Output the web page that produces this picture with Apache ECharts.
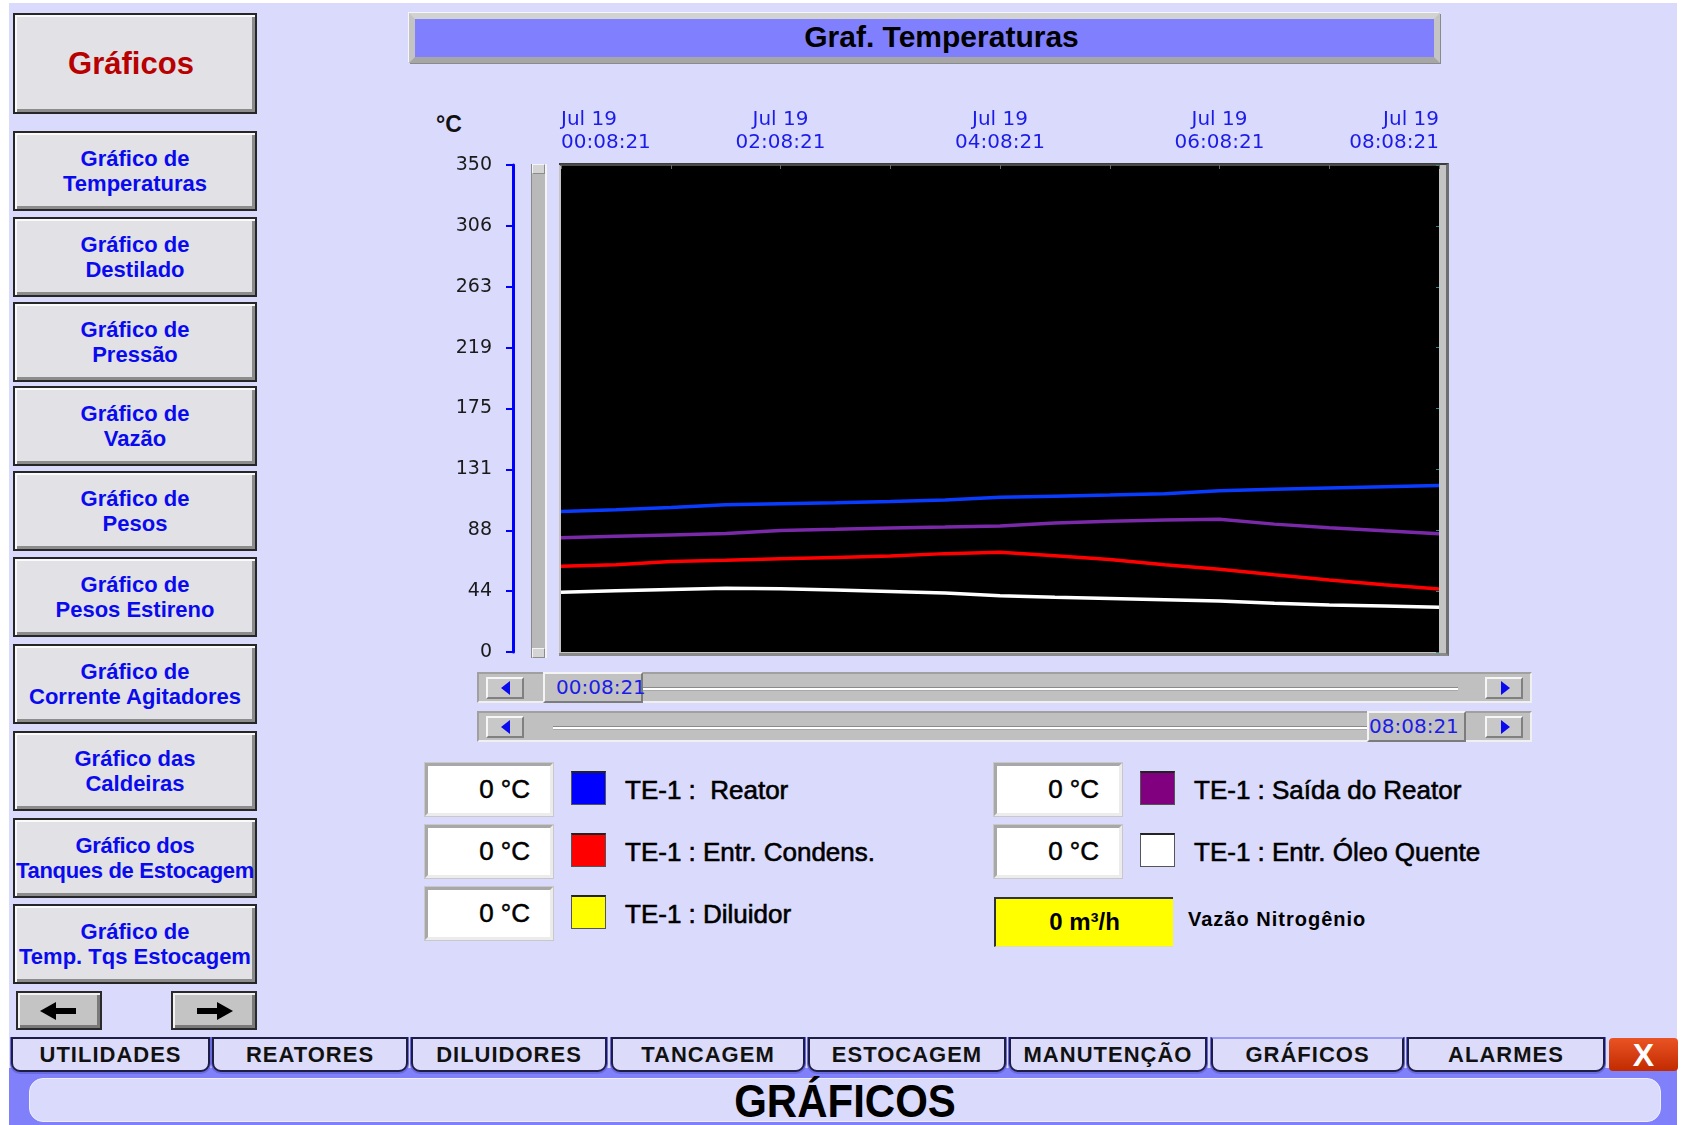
<!DOCTYPE html>
<html>
<head>
<meta charset="utf-8">
<title>Graf. Temperaturas</title>
<script src="https://cdn.jsdelivr.net/npm/echarts@6/dist/echarts.min.js"></script>
<style>
  html, body { margin: 0; padding: 0; background: #fff; }
  body { width: 1683px; height: 1125px; position: relative; overflow: hidden; font-family: Arial, "Liberation Sans", sans-serif; }
  .abs { position: absolute; box-sizing: border-box; }
  #panel { left: 9px; top: 3px; width: 1668px; height: 1122px; background: #dadafc; }
  #chart { left: 0; top: 0; width: 1683px; height: 1125px; z-index: 5; pointer-events: none; }

  /* menu lateral */
  .btn { left: 13px; width: 244px; height: 80px; background: #e1e1e6; border: 2px solid #262626;
         box-shadow: inset 2px 2px 0 #fafafa, inset -3px -3px 0 #8c8c8c;
         color: #0a0aee; font: bold 22px Arial, sans-serif; line-height: 25px; text-align: center; white-space: nowrap;
         display: flex; align-items: center; justify-content: center; }
  .head { top: 13px; height: 101px; color: #b80000; font-size: 31px; padding-right: 8px; }
  .arrowbtn { top: 991px; width: 86px; height: 39px; background: #c4c4c4; border: 2px solid #2a2a2a;
              box-shadow: inset 2px 2px 0 #f2f2f2, inset -3px -3px 0 #7a7a7a; }
  .shaft { width: 22px; height: 6px; background: #000; top: 15px; }
  .tri { width: 0; height: 0; top: 9px; border-top: 9px solid transparent; border-bottom: 9px solid transparent; }

  /* titulo */
  #title { left: 409px; top: 13px; width: 1031px; height: 50px; background: #8080ff;
           border: 6px solid #c4c4c4; border-top-color: #d2d2d2; border-bottom-color: #a6a6a6;
           box-shadow: -1px -1px 0 #f6f6f6, 1px 1px 0 #8a8a8a;
           font: bold 30px Arial, sans-serif; color: #000; text-align: center; line-height: 36px; padding-left: 34px; }

  #degC { left: 436px; top: 111px; font: bold 23px Arial, sans-serif; color: #111; }
  #yscroll { left: 531px; top: 164px; width: 16px; height: 494px; background: #b9b9b9;
             border-left: 1px solid #8a8a8a; border-right: 2px solid #f4f4f4; }
  .cap { left: 0; width: 13px; height: 10px; background: #d4d4d4; border: 1px solid #8c8c8c; border-top-color: #f4f4f4; border-left-color: #f4f4f4; }
  #frame { left: 559px; top: 163px; width: 890px; height: 493px; background: #c4c4c4;
           border-top: 2px solid #3c3c3c; border-right: 3px solid #6e6e6e; border-bottom: 3px solid #8a8a8a; }

  /* barras de rolagem */
  .slider { left: 477px; width: 1055px; height: 31px; background: #c0c0c0; border: 2px solid;
            border-color: #a0a0a0 #f0f0f0 #f0f0f0 #a0a0a0; }
  .sbtn { width: 38px; height: 22px; background: #c8c8c8; border: 2px solid; border-color: #f6f6f6 #808080 #808080 #f6f6f6; }
  .sl { top: 2px; left: 13px; width: 0; height: 0; border-top: 7px solid transparent; border-bottom: 7px solid transparent; border-right: 9px solid #0a0aee; }
  .sr { top: 2px; left: 14px; width: 0; height: 0; border-top: 7px solid transparent; border-bottom: 7px solid transparent; border-left: 9px solid #0a0aee; }
  .thumb { height: 31px; background: #c2c2c2; border: 2px solid; border-color: #f4f4f4 #7c7c7c #7c7c7c #f4f4f4;
           color: #1c1ce8; font: 20px "DejaVu Sans", sans-serif; line-height: 27px; }
  .track { height: 4px; background: #fff; border-top: 1px solid #8a8a8a; border-bottom: 1px solid #a8a8a8; }

  /* legenda */
  .val { width: 128px; height: 53px; background: #fff; border: 3px solid; border-color: #a8a8a8 #ececec #ececec #a8a8a8;
         box-shadow: 0 0 0 1px #c8c8c8; font: 26px Arial, sans-serif; color: #000; text-align: right; padding-right: 20px;
         line-height: 47px; -webkit-text-stroke: 0.5px #000; }
  .sq { width: 35px; height: 34px; border: 1px solid #555; border-top: 2px solid #222; }
  .lab { font: 26px Arial, sans-serif; color: #000; white-space: pre; line-height: 30px; -webkit-text-stroke: 0.6px #000; }

  /* abas */
  .tab { top: 1037px; height: 35px; background: #dcdcfa; border: 2px solid #1e1e44; border-radius: 0 0 9px 9px;
         box-shadow: 0 1px 0 1px #6a6ae0; font: bold 22px Arial, sans-serif; letter-spacing: 1px; color: #111;
         text-align: center; line-height: 31px; }
  #band { left: 9px; top: 1068px; width: 1668px; height: 57px; background: #8080fa; }
  #footer { left: 29px; top: 1078px; width: 1632px; height: 44px; background: #dadafc; border: 1px solid #eeeeff;
            border-radius: 14px; font: bold 42px Arial, sans-serif; color: #000; text-align: center; line-height: 44px; }
  #footer span { display: inline-block; transform: scaleY(1.12); }
  #close { left: 1609px; top: 1038px; width: 69px; height: 33px; background: linear-gradient(#ea5424, #c22a00);
           border-radius: 4px; color: #fff; font: bold 32px Arial, sans-serif; text-align: center; line-height: 34px; }
</style>
</head>
<body>
<div id="panel" class="abs"></div>

<div class="abs btn head">Gráficos</div>
<div id="menu"></div>
<div class="abs arrowbtn" style="left:16px">
  <div class="abs tri" style="left:22px;border-right:16px solid #000"></div>
  <div class="abs shaft" style="left:36px"></div>
</div>
<div class="abs arrowbtn" style="left:171px">
  <div class="abs shaft" style="left:24px"></div>
  <div class="abs tri" style="left:44px;border-left:16px solid #000"></div>
</div>

<div id="title" class="abs">Graf. Temperaturas</div>
<div id="degC" class="abs">°C</div>
<div id="yscroll" class="abs">
  <div class="abs cap" style="top:0"></div>
  <div class="abs cap" style="bottom:0"></div>
</div>
<div id="frame" class="abs"></div>

<div class="abs slider" style="top:672px">
  <div class="abs sbtn" style="left:7px;top:3px"><div class="abs sl"></div></div>
  <div class="abs track" style="left:164px;top:13px;width:815px"></div>
  <div class="abs thumb" style="left:64px;top:-2px;width:100px;padding-left:11px">00:08:21</div>
  <div class="abs sbtn" style="left:1006px;top:3px"><div class="abs sr"></div></div>
</div>
<div class="abs slider" style="top:711px">
  <div class="abs sbtn" style="left:7px;top:3px"><div class="abs sl"></div></div>
  <div class="abs track" style="left:74px;top:13px;width:816px"></div>
  <div class="abs thumb" style="left:888px;top:-2px;width:99px;text-align:right;padding-right:6px">08:08:21</div>
  <div class="abs sbtn" style="left:1006px;top:3px"><div class="abs sr"></div></div>
</div>

<div id="legend"></div>

<div class="abs" style="left:994px;top:897px;width:179px;height:50px;background:#ffff00;border-top:2px solid #333;border-left:2px solid #333;border-bottom:1px solid #e0e0a0;font:bold 24px Arial,sans-serif;text-align:center;line-height:46px">0 m³/h</div>
<div class="abs" style="left:1188px;top:908px;font:bold 20px Arial,sans-serif;letter-spacing:1px">Vazão Nitrogênio</div>

<div id="band" class="abs"></div>
<div id="tabs"></div>
<div id="close" class="abs">X</div>
<div id="footer" class="abs"><span>GRÁFICOS</span></div>

<div id="chart" class="abs"></div>

<script>
// horarios das amostras (a cada 30 min)
const times = ['00:08:21', '00:38:21', '01:08:21', '01:38:21', '02:08:21', '02:38:21', '03:08:21', '03:38:21',
  '04:08:21', '04:38:21', '05:08:21', '05:38:21', '06:08:21', '06:38:21', '07:08:21', '07:38:21', '08:08:21'];
const dayLabel = 'Jul 19';

// temperaturas (°C)
const reator = [101.0, 102.3, 103.9, 105.8, 106.6, 107.3, 108.1, 109.3, 111.2, 112.0, 112.8, 113.8, 115.9, 116.9, 117.8, 118.7, 119.6];
const saidaReator = [82.1, 83.1, 84.1, 85.1, 87.4, 88.2, 89.1, 89.8, 90.6, 92.7, 93.9, 94.9, 95.4, 91.9, 89.3, 87.1, 85.0];
const entrCondens = [61.7, 62.7, 65.1, 66.0, 67.0, 68.0, 69.0, 70.7, 71.7, 69.2, 66.5, 62.7, 59.4, 55.5, 51.8, 48.4, 45.2];
const entrOleo = [43.0, 44.0, 45.0, 45.9, 45.5, 44.6, 43.5, 42.4, 40.4, 39.3, 38.5, 37.6, 36.6, 35.0, 33.8, 33.0, 32.2];

// escala do eixo Y
const yMin = 0;
const yMax = 350;
const yStep = 43.75;

// menu lateral
const menuItems = ['Gráfico de<br>Temperaturas', 'Gráfico de<br>Destilado', 'Gráfico de<br>Pressão', 'Gráfico de<br>Vazão',
  'Gráfico de<br>Pesos', 'Gráfico de<br>Pesos Estireno', 'Gráfico de<br>Corrente Agitadores', 'Gráfico das<br>Caldeiras',
  'Gráfico dos<br>Tanques de Estocagem', 'Gráfico de<br>Temp. Tqs Estocagem'];
const menuTops = [131, 217, 302, 386, 471, 557, 644, 731, 818, 904];

// abas
const tabs = [['UTILIDADES', 11, 199], ['REATORES', 212, 196], ['DILUIDORES', 411, 196], ['TANCAGEM', 611, 194],
  ['ESTOCAGEM', 808, 198], ['MANUTENÇÃO', 1009, 198], ['GRÁFICOS', 1211, 193], ['ALARMES', 1407, 198]];

// legenda
const legendItems = [
  { label: 'TE-1 :  Reator', color: '#0000ff', x: 425, y: 763 },
  { label: 'TE-1 : Entr. Condens.', color: '#ff0000', x: 425, y: 825 },
  { label: 'TE-1 : Diluidor', color: '#ffff00', x: 425, y: 887 },
  { label: 'TE-1 : Saída do Reator', color: '#800080', x: 994, y: 763 },
  { label: 'TE-1 : Entr. Óleo Quente', color: '#ffffff', x: 994, y: 825 }
];

let html = '';
menuItems.forEach((t, i) => {
  const tight = t.indexOf('Tanques') >= 0 ? 'letter-spacing:-0.3px;' : '';
  html += '<div class="abs btn" style="top:' + menuTops[i] + 'px;' + tight + '">' + t + '</div>';
});
document.getElementById('menu').innerHTML = html;

html = '';
tabs.forEach(t => {
  const active = t[0] === 'GRÁFICOS' ? 'border-top-color:#9a9af0;' : '';
  html += '<div class="abs tab" style="left:' + t[1] + 'px;width:' + t[2] + 'px;' + active + '">' + t[0] + '</div>';
});
document.getElementById('tabs').innerHTML = html;

html = '';
legendItems.forEach(it => {
  html += '<div class="abs val" style="left:' + it.x + 'px;top:' + it.y + 'px">0 °C</div>';
  html += '<div class="abs sq" style="left:' + (it.x + 146) + 'px;top:' + (it.y + 8) + 'px;background:' + it.color + '"></div>';
  html += '<div class="abs lab" style="left:' + (it.x + 200) + 'px;top:' + (it.y + 12) + 'px">' + it.label + '</div>';
});
document.getElementById('legend').innerHTML = html;

// minutos desde o inicio
function toSec(t) {
  const p = t.split(':').map(Number);
  return p[0] * 3600 + p[1] * 60 + p[2];
}
const t0 = toSec(times[0]);
const xs = times.map(t => (toSec(t) - t0) / 60);
function pad(n) { return (n < 10 ? '0' : '') + n; }
function fmtTime(min) {
  const s = t0 + Math.round(min * 60);
  return pad(Math.floor(s / 3600)) + ':' + pad(Math.floor(s / 60) % 60) + ':' + pad(s % 60);
}
function pairs(vals) { return xs.map((x, i) => [x, vals[i]]); }

const chart = echarts.init(document.getElementById('chart'));
chart.setOption({
  animation: false,
  grid: { left: 561, top: 165, width: 878, height: 487, show: true, backgroundColor: '#000', borderWidth: 0 },
  xAxis: {
    type: 'value', position: 'top', min: 0, max: 480, interval: 60,
    axisLine: { show: true, onZero: false, lineStyle: { color: '#4a4a4a', width: 2 } },
    axisTick: { show: true, inside: true, length: 4, lineStyle: { color: '#6a6a6a' } },
    axisLabel: {
      color: '#1c1ce8', fontSize: 20, fontFamily: 'DejaVu Sans', lineHeight: 23, margin: 11,
      alignMinLabel: 'left', alignMaxLabel: 'right',
      formatter: v => (v % 120 === 0 ? dayLabel + '\n' + fmtTime(v) : '')
    },
    splitLine: { show: false }
  },
  yAxis: [{
    type: 'value', position: 'left', offset: 48, min: yMin, max: yMax, interval: yStep,
    axisLine: { show: true, onZero: false, lineStyle: { color: '#0000ff', width: 3 } },
    axisTick: { show: true, length: 7, lineStyle: { color: '#0000ff', width: 2 } },
    axisLabel: { color: '#1a1a1a', fontSize: 19, fontFamily: 'DejaVu Sans', margin: 21, formatter: v => String(Math.round(v)) },
    splitLine: { show: false }
  }, {
    type: 'value', position: 'right', min: yMin, max: yMax, interval: yStep,
    axisLine: { show: false, onZero: false },
    axisTick: { show: true, inside: true, length: 3, lineStyle: { color: '#2b8c8c' } },
    axisLabel: { show: false },
    splitLine: { show: false }
  }],
  series: [
    { name: 'TE-1 : Entr. Óleo Quente', type: 'line', data: pairs(entrOleo), showSymbol: false, lineStyle: { color: '#ffffff', width: 3.5 } },
    { name: 'TE-1 : Entr. Condens.', type: 'line', data: pairs(entrCondens), showSymbol: false, lineStyle: { color: '#ff0000', width: 3.5 } },
    { name: 'TE-1 : Saída do Reator', type: 'line', data: pairs(saidaReator), showSymbol: false, lineStyle: { color: '#7a2aa8', width: 3.5 } },
    { name: 'TE-1 : Reator', type: 'line', data: pairs(reator), showSymbol: false, lineStyle: { color: '#0a3cff', width: 3.5 } }
  ]
});
</script>
</body>
</html>
